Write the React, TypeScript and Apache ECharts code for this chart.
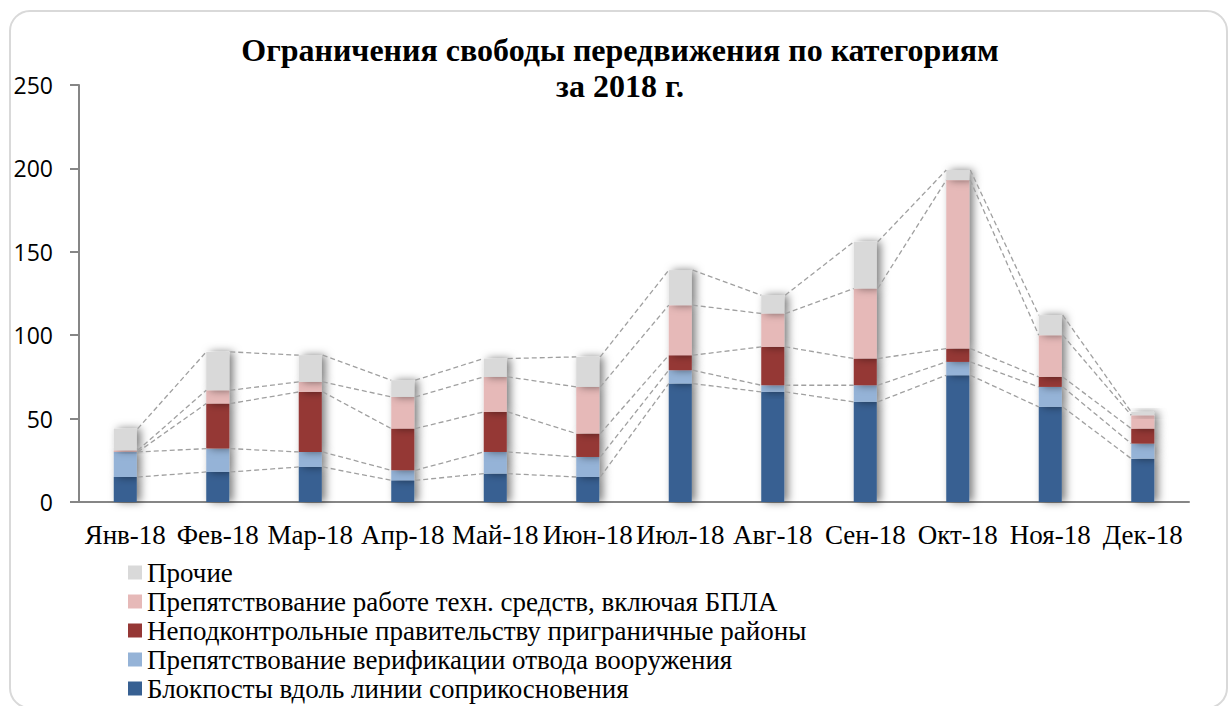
import React, { useEffect, useRef } from "react";
import * as echarts from "echarts";

const CATEGORIES = ["Янв-18", "Фев-18", "Мар-18", "Апр-18", "Май-18", "Июн-18", "Июл-18", "Авг-18", "Сен-18", "Окт-18", "Ноя-18", "Дек-18"];

const NAME_CHECKPOINTS = "Блокпосты вдоль линии соприкосновения";
const NAME_VERIFICATION = "Препятствование верификации отвода вооружения";
const NAME_BORDER = "Неподконтрольные правительству приграничные районы";
const NAME_TECH = "Препятствование работе техн. средств, включая БПЛА";
const NAME_OTHER = "Прочие";

const CHECKPOINTS = [15, 18, 21, 13, 17, 15, 71, 66, 60, 76, 57, 26];
const VERIFICATION = [15, 14, 9, 6, 13, 12, 8, 4, 10, 8, 12, 9];
const BORDER = [0, 27, 36, 25, 24, 14, 9, 23, 16, 8, 6, 9];
const TECH = [1, 8, 6, 19, 21, 28, 30, 20, 42, 101, 25, 8];
const OTHER = [13, 23, 16, 10, 11, 18, 21, 11, 28, 6, 12, 2];

const Y_TICKS = [0, 50, 100, 150, 200, 250];

const SERIES = [
  { name: NAME_CHECKPOINTS, data: CHECKPOINTS, color: "#376092" },
  { name: NAME_VERIFICATION, data: VERIFICATION, color: "#95B3D7" },
  { name: NAME_BORDER, data: BORDER, color: "#953735" },
  { name: NAME_TECH, data: TECH, color: "#E6B9B8" },
  { name: NAME_OTHER, data: OTHER, color: "#D9D9D9" },
];

const BAR_WIDTH = 23;
const SERIF = "'Liberation Serif', 'Times New Roman', serif";
const SANS = "'Open Sans', 'Noto Sans', sans-serif";

export default function App() {
  const ref = useRef<HTMLDivElement>(null);

  useEffect(() => {
    if (!ref.current) return;
    const chart = echarts.init(ref.current, undefined, { renderer: "svg" });
    const half = BAR_WIDTH / 2;

    const barSeries = SERIES.map((s) => ({
      type: "bar",
      name: s.name,
      stack: "total",
      barWidth: BAR_WIDTH,
      data: s.data,
      itemStyle: {
        color: s.color,
        shadowBlur: 8,
        shadowOffsetX: 4,
        shadowOffsetY: 0,
        shadowColor: "rgba(0,0,0,0.5)",
      },
      z: 2,
    }));

    const linesSeries = {
      type: "custom",
      name: "series-lines",
      silent: true,
      z: 3,
      encode: { x: 0, y: 1 },
      data: CATEGORIES.slice(0, -1).map((_, i) => [i, 0]),
      renderItem: (_params: any, api: any) => {
        const i = api.value(0);
        const children: any[] = [];
        let cumA = 0;
        let cumB = 0;
        for (const s of SERIES) {
          cumA += s.data[i];
          cumB += s.data[i + 1];
          const p1 = api.coord([i, cumA]);
          const p2 = api.coord([i + 1, cumB]);
          children.push({
            type: "line",
            shape: { x1: p1[0] + half + 1, y1: p1[1], x2: p2[0] - half, y2: p2[1] },
            style: { stroke: "#a0a0a0", lineWidth: 1.3, lineDash: [5, 3], fill: null },
          });
        }
        return { type: "group", children };
      },
    };

    chart.setOption({
      animation: false,
      backgroundColor: "#ffffff",
      grid: { left: 79, right: 39, top: 85, bottom: 204, containLabel: false },
      graphic: [
        {
          type: "rect",
          shape: { x: 10, y: 11, width: 1217, height: 697, r: 20 },
          style: { fill: "none", stroke: "#d9d9d9", lineWidth: 2 },
          z: 0,
          silent: true,
        },
        {
          type: "text",
          x: 620,
          y: 32,
          style: {
            text: "Ограничения свободы передвижения по категориям\nза 2018 г.",
            align: "center",
            verticalAlign: "top",
            font: `bold 32px ${SERIF}`,
            lineHeight: 36,
            fill: "#000",
          },
          z: 10,
        },
      ],
      legend: {
        orient: "vertical",
        left: 128,
        top: 559,
        height: 200,
        padding: 0,
        itemWidth: 14,
        itemHeight: 14,
        itemGap: 2,
        icon: "rect",
        data: [NAME_OTHER, NAME_TECH, NAME_BORDER, NAME_VERIFICATION, NAME_CHECKPOINTS],
        itemStyle: { shadowBlur: 0, shadowOffsetX: 0, shadowColor: "transparent" },
        textStyle: { fontFamily: SERIF, fontSize: 27, lineHeight: 26, color: "#000" },
      },
      xAxis: {
        type: "category",
        data: CATEGORIES,
        boundaryGap: true,
        axisLine: { show: true, lineStyle: { color: "#868686", width: 2 } },
        axisTick: { show: false },
        axisLabel: { fontFamily: SERIF, fontSize: 27, color: "#000", margin: 19, interval: 0 },
        splitLine: { show: false },
      },
      yAxis: {
        type: "value",
        min: Y_TICKS[0],
        max: Y_TICKS[Y_TICKS.length - 1],
        interval: Y_TICKS[1] - Y_TICKS[0],
        axisLine: { show: true, lineStyle: { color: "#868686", width: 2 } },
        axisTick: { show: true, length: 9, lineStyle: { color: "#868686", width: 2 } },
        axisLabel: { fontFamily: SANS, fontSize: 23, color: "#000", margin: 26 },
        splitLine: { show: false },
      },
      series: [...barSeries, linesSeries],
    });

    return () => chart.dispose();
  }, []);

  return (
    <div
      ref={ref}
      style={{ position: "absolute", left: 0, top: 0, width: 1228, height: 706, background: "#fff" }}
    />
  );
}
